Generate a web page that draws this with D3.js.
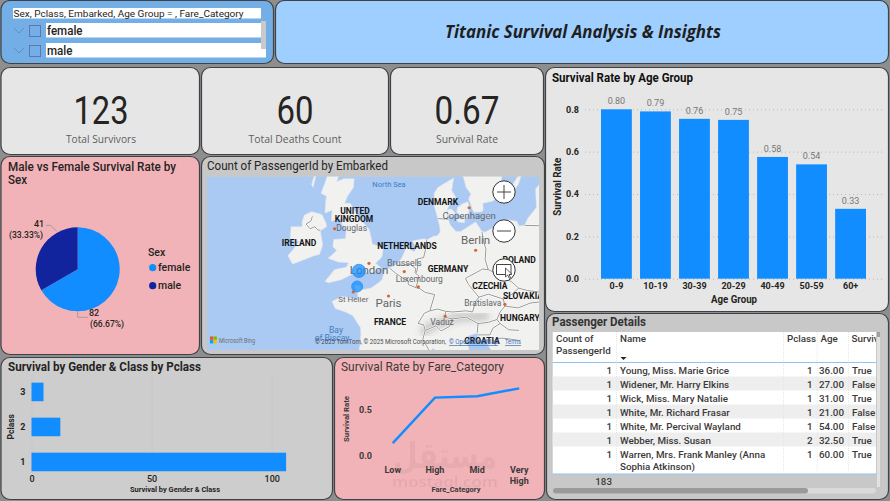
<!DOCTYPE html>
<html>
<head>
<meta charset="utf-8">
<title>Titanic Survival Analysis &amp; Insights</title>
<script src="https://cdn.jsdelivr.net/npm/d3@7"></script>
<style>
  html, body { margin: 0; padding: 0; background: #8e8e8e; }
  svg { display: block; }
</style>
</head>
<body>
<svg id="dash" width="890" height="501"></svg>
<script>
// ---- Data ----
const kpiValues = ["123", "60", "0.67"];
const kpiLabels = ["Total Survivors", "Total Deaths Count", "Survival Rate"];

const sexCategories = ["female", "male"];
const sexCounts = [82, 41];

const ageGroups = ["0-9", "10-19", "30-39", "20-29", "40-49", "50-59", "60+"];
const ageRates = [0.80, 0.79, 0.755, 0.75, 0.575, 0.54, 0.33];
const ageRateLabels = ["0.80", "0.79", "0.76", "0.75", "0.58", "0.54", "0.33"];

const pclassCategories = ["3", "2", "1"];
const pclassSurvivors = [5, 12, 106];

const fareCategories = ["Low", "High", "Mid", "Very High"];
const fareRates = [0.14, 0.635, 0.65, 0.735];

const ports = ["Southampton", "Cherbourg"];
const portLon = [-1.4, -1.62];
const portLat = [50.9, 49.64];
const portCounts = [116, 65];

const tableCounts = [1, 1, 1, 1, 1, 1, 1];
const tableNames = ["Young, Miss. Marie Grice", "Widener, Mr. Harry Elkins", "Wick, Miss. Mary Natalie",
  "White, Mr. Richard Frasar", "White, Mr. Percival Wayland", "Webber, Miss. Susan",
  "Warren, Mrs. Frank Manley (Anna|Sophia Atkinson)"];
const tablePclass = [1, 1, 1, 1, 1, 2, 1];
const tableAges = ["36.00", "27.00", "31.00", "21.00", "54.00", "32.50", "60.00"];
const tableSurvived = ["True", "False", "True", "False", "False", "True", "True"];
const tableTotal = 183;

// Base map geography, lon/lat
const ireland = [[-7.4,55.4],[-6.1,55.2],[-5.6,54.6],[-5.5,54.3],[-6.3,54],[-6.1,53.3],[-6,52.9],[-6.4,52.2],[-7.1,52.1],[-8.3,51.8],[-9.8,51.45],[-10.4,52.1],[-9.7,52.6],[-9,53.2],[-10.1,53.4],[-10,54.3],[-8.6,54.3],[-8.6,54.65],[-8.3,55.15]];
const britain = [[-5,58.6],[-3.4,58.65],[-3.1,58.4],[-4,57.85],[-4.2,57.5],[-3.3,57.7],[-2,57.7],[-2.1,57.1],[-2.9,56.45],[-3.2,56],[-2.5,56],[-1.45,55],[-0.1,54.1],[0.1,53.6],[0.3,53],[1.7,52.7],[1.5,52],[0.7,51.5],[1.4,51.15],[0.2,50.75],[-1.3,50.8],[-2.4,50.6],[-3.6,50.2],[-5.2,49.95],[-5.7,50.05],[-4.5,51],[-3,51.2],[-2.7,51.55],[-4,51.6],[-5.3,51.9],[-4.2,52.5],[-4.7,52.8],[-4.6,53.35],[-3.1,53.4],[-3,54.1],[-3.6,54.5],[-3.3,54.95],[-4.9,54.7],[-4.8,55.5],[-5.7,55.3],[-5.6,56.2],[-5.5,56.5],[-6.2,56.7],[-5.7,57.4],[-5.2,58.2]];
const hebrides = [[-6.3,58.5],[-6.9,58.2],[-7.4,57.3],[-7.2,57.1],[-6.9,57.8]];
const continent = [[-1.6,43.4],[-1.25,44.6],[-1.15,45.6],[-1.2,46.15],[-2.2,47.2],[-3.1,47.5],[-4.4,47.8],[-4.8,48.4],[-3.5,48.8],[-2,48.65],[-1.5,48.65],[-1.6,49.2],[-1.95,49.72],[-1.25,49.7],[-1.1,49.35],[0.1,49.5],[1.1,49.95],[1.55,50.2],[1.85,50.95],[2.9,51.25],[3.5,51.45],[4.1,52],[4.75,52.95],[5,52.6],[5.6,52.4],[5.9,52.7],[5.4,53.25],[6.9,53.4],[7.2,53.3],[8.1,53.6],[8.5,53.6],[8.9,53.9],[8.85,54.3],[8.6,54.9],[8.3,55.5],[8.1,56],[8.15,56.7],[8.6,57.1],[10.6,57.75],[10.5,57.4],[10.35,56.9],[10.9,56.4],[10.25,56.1],[9.75,55.5],[9.9,54.85],[10.2,54.4],[10.9,53.95],[11.5,53.95],[12.2,54.2],[13.4,54.65],[14.2,53.95],[14.6,53.9],[15.6,54.2],[17.5,54.8],[18.6,54.7],[18.9,54.35],[19.6,54.4],[20,54.9],[21.1,55.7],[21,57],[24,59],[30,60],[30,38],[19,38],[19,40],[18.5,42.4],[16,43.5],[15.2,44.3],[14.5,45.25],[13.9,44.8],[13.6,45.5],[13.7,45.7],[12.4,45.4],[12.3,44.9],[12.6,44],[14,42],[18,40],[16,38],[10,43],[8,44.3],[6,43],[3,43],[3,42],[-2,36],[-10,36],[-10,43.5]];
const scandinavia = [[7,58],[8.5,58.2],[9.5,58.9],[10.5,59.3],[11.2,59],[11.5,58.3],[11.9,57.7],[12.2,57.1],[12.8,56.65],[12.5,56.3],[12.7,56.05],[13,55.55],[13.2,55.35],[14.2,55.4],[14.35,55.55],[14.3,56],[15.6,56.15],[16.4,56.7],[16.7,57.8],[17,58.7],[18.5,59.5],[19,60],[25,62],[25,64],[5,64],[5,59],[5.6,58.9],[6,58.2]];
const zealand = [[11.1,55.7],[11,55.35],[11.8,55],[12.2,54.9],[12.5,55.3],[12.6,55.7],[12.4,56.1],[11.7,55.95]];
const funen = [[9.8,55.5],[10.3,55.6],[10.8,55.3],[10.6,55.05],[10,55.1]];
const lolland = [[11,54.85],[12,54.9],[12,54.6],[11.2,54.65]];
const bornholm = [[14.7,55.1],[15.15,55.15],[15.1,55],[14.75,55]];
const gotland = [[18.1,57.3],[18.8,57.9],[19.2,57.95],[18.8,57.3],[18.3,56.95]];
const landShapes = [ireland, britain, hebrides, continent, scandinavia, zealand, funen, lolland, bornholm, gotland];

const borderLines = [
  [[-7.3,55.05],[-7.5,54.7],[-8.1,54.5],[-7.6,54.15],[-7,54.3],[-6.6,54.05],[-6.3,54.05]],
  [[2.55,51.08],[3.2,50.75],[4.2,50.3],[4.85,50.1],[4.85,49.8],[5.8,49.55],[6.35,49.45],[7,49.15],[8.2,48.97],[7.6,47.6],[6.9,47.4],[6.1,46.5],[6.8,46.4],[7,45.9],[6.7,45.1],[7.1,44.6],[7.5,44.1]],
  [[3.4,51.35],[4.3,51.35],[5,51.45],[5.8,51.1],[5.7,50.75],[6.2,50.5],[6.1,50.1],[5.8,49.55]],
  [[5.9,50.75],[6.05,51.2],[6,51.85],[6.8,51.95],[7.05,52.6],[7.2,53.3]],
  [[8.6,54.9],[9.9,54.85]],
  [[14.2,53.9],[14.4,53.2],[14.7,52.6],[14.6,51.8],[15,51],[14.3,51.05],[12.1,50.3],[12.5,49.8],[13.8,48.75],[13.4,48.4],[13,47.5],[12.2,47.6],[10.5,47.5],[9.6,47.55],[8.6,47.75],[7.6,47.6]],
  [[9.6,47.5],[9.5,47.05],[10.4,46.9],[10.1,46.25],[9,45.85],[8.4,46.3],[7,45.9]],
  [[10.4,46.9],[12.2,47.05],[13.7,46.5],[15,46.6],[16.1,46.85],[16.5,47.5],[17.1,48],[16.9,48.6],[15,49],[13.8,48.75]],
  [[15,51],[16.3,50.6],[18,50],[18.85,49.5],[20,49.3],[22.5,49.1]],
  [[16.9,48.6],[18,49],[18.85,49.5]],
  [[17.1,48],[18.8,47.85],[20.3,48.25],[22.1,48.4]],
  [[13.6,45.5],[15.2,45.5],[15.6,46.1],[16.5,46.5],[17.6,45.95],[18.9,45.9]],
  [[16.1,46.85],[16.5,46.5]],
  [[13.7,46.5],[13.6,45.7]],
  [[15.7,44.8],[16,45.2],[17,45.2],[19,45]],
  [[19.6,54.4],[22.8,54.35]]
];
const alps = [[6.6,45.6],[7.6,46.2],[9.2,46.6],[11,47],[13.4,47.1],[15,47.2]];

const cityNames = ["London", "Douglas", "Copenhagen", "Berlin", "Brussels", "Luxembourg", "St Helier", "Paris", "Bratislava", "Vaduz"];
const cityLon = [-0.12, -4.48, 12.57, 13.4, 4.35, 6.13, -2.11, 2.35, 17.1, 9.52];
const cityLat = [51.5, 54.15, 55.68, 52.52, 50.85, 49.61, 49.19, 48.85, 48.15, 47.14];
const cityLabelOffsetX = [0, 17, 0, 0, 0, 1, 0, 0, -22, -3];
const cityLabelOffsetY = [11, 2, 11, -6, -6, -5, 10, 11, 2, 9];
const cityLabelSizes = [11.5, 8.5, 9.5, 11.5, 9, 8.5, 8, 11.5, 8.5, 8.5];

const countryNames = ["UNITED", "KINGDOM", "IRELAND", "DENMARK", "NETHERLANDS", "GERMANY", "POLAND", "CZECHIA", "SLOVAKIA", "HUNGARY", "FRANCE", "CROATIA", "LITHUANIA"];
const countryLon = [-1.9, -2.02, -8.99, 8.62, 4.69, 9.89, 18.9, 15.2, 19.4, 19.0, 2.54, 14.2, 21.7];
const countryLat = [55.26, 54.68, 52.82, 55.84, 52.58, 50.78, 51.55, 49.46, 48.64, 46.76, 46.4, 44.72, 55.26];

// ---- Helpers ----
const svg = d3.select("#dash");
const DIN = "Roboto, 'Noto Sans', sans-serif";
const SEGOE = "'Open Sans', 'Noto Sans', sans-serif";

function label(parent, x, y, str, o = {}) {
  const t = parent.append("text")
    .attr("x", x).attr("y", y)
    .attr("font-family", o.family || DIN)
    .attr("font-size", o.size || 10)
    .attr("font-weight", o.weight || 400)
    .attr("fill", o.fill || "#252423")
    .attr("text-anchor", o.anchor || "start")
    .text(str);
  if (o.style) t.attr("font-style", o.style);
  if (o.width) t.attr("textLength", o.width).attr("lengthAdjust", "spacingAndGlyphs");
  if (o.rotate) t.attr("transform", `rotate(${o.rotate} ${x} ${y})`);
  return t;
}

function panel(x, y, w, h, fill) {
  svg.append("rect").attr("x", x + 0.5).attr("y", y + 0.5).attr("width", w).attr("height", h)
    .attr("rx", 9).attr("fill", fill).attr("stroke", "#3f4347").attr("stroke-width", 1.2);
}

function styleAxis(g, size, weight) {
  g.select(".domain").remove();
  g.selectAll(".tick text").attr("font-family", DIN).attr("font-size", size)
    .attr("font-weight", weight).attr("fill", "#252423");
  g.selectAll(".tick line").attr("stroke", "#b9b9b9").attr("stroke-width", 1).attr("stroke-dasharray", "1 3");
}

// ---- Panels ----
svg.append("rect").attr("width", 890).attr("height", 501).attr("fill", "#8e8e8e");
panel(0.5, 0, 272.5, 63, "#73aee6");
panel(275, 0, 613, 63, "#9fcfff");
panel(0.5, 67, 198.5, 87, "#e6e6e6");
panel(201, 67, 187, 87, "#e6e6e6");
panel(390, 67, 153, 87, "#e6e6e6");
panel(0.5, 156, 198.5, 198, "#f2b3b8");
panel(201, 156, 343, 198, "#c8c8c8");
panel(545, 67, 343, 244, "#e6e6e6");
panel(546, 313, 342, 186, "#c8c8c8");
panel(0.5, 357, 331.5, 142, "#cdcdcd");
panel(334, 357, 210, 142, "#f2b3b8");

// ---- Slicer ----
const slicer = svg.append("g");
slicer.append("rect").attr("x", 13).attr("y", 8).attr("width", 248).attr("height", 10.5).attr("fill", "#fff");
label(slicer, 13.5, 17, "Sex, Pclass, Embarked, Age Group = , Fare_Category", { size: 9.5, width: 230, fill: "#252423" });
sexCategories.forEach((s, i) => {
  const top = 23 + i * 20;
  slicer.append("rect").attr("x", 46).attr("y", top).attr("width", 220).attr("height", 14.5).attr("fill", "#fff");
  slicer.append("path").attr("d", `M14 ${top + 5}l5 5l5 -5`).attr("fill", "none").attr("stroke", "#5d8ec4").attr("stroke-width", 1);
  slicer.append("rect").attr("x", 29.5).attr("y", top + 2.5).attr("width", 11).attr("height", 11)
    .attr("fill", "none").attr("stroke", "#5f77ad").attr("stroke-width", 1);
  label(slicer, 47, top + 12, s, { size: 12, weight: 500, width: i ? 25.5 : 35.5 });
});
slicer.append("rect").attr("x", 261).attr("y", 21).attr("width", 5).attr("height", 28).attr("fill", "#c9c9c9");

// ---- Header ----
label(svg, 583, 38, "Titanic Survival Analysis & Insights",
  { family: SEGOE, size: 17, weight: 700, style: "italic", anchor: "middle", width: 276, fill: "#1f1f1f" });

// ---- KPI cards ----
const kpiCenters = [101, 295, 467];
const kpiNumberWidths = [55, 37, 65];
const kpiLabelWidths = [70, 93, 62];
kpiValues.forEach((v, i) => {
  label(svg, kpiCenters[i], 124, v, { size: 39, anchor: "middle", width: kpiNumberWidths[i], fill: "#252423" });
  label(svg, kpiCenters[i], 143, kpiLabels[i], { family: SEGOE, size: 11, anchor: "middle", width: kpiLabelWidths[i], fill: "#605e5c" });
});

// ---- Pie: survivors by sex ----
const sexColor = d3.scaleOrdinal().domain(sexCategories).range(["#118dff", "#12239e"]);
const pieG = svg.append("g").attr("transform", "translate(77.7,269.3)");
const pieArcs = d3.pie().sort(null)(sexCounts);
const arc = d3.arc().innerRadius(0).outerRadius(42);
pieG.selectAll("path").data(pieArcs).join("path")
  .attr("d", arc).attr("fill", (d, i) => sexColor(sexCategories[i]));

label(svg, 8, 171, "Male vs Female Survival Rate by", { size: 12, weight: 500, width: 168 });
label(svg, 8, 184, "Sex", { size: 12, weight: 500, width: 19 });

const total = d3.sum(sexCounts);
const pct = d => `(${(d / total * 100).toFixed(2)}%)`;
pieG.append("path").attr("d", "M0 42V48H10").attr("fill", "none").attr("stroke", "#a99a9a");
pieG.append("path").attr("d", "M-21 -38L-27 -44H-32").attr("fill", "none").attr("stroke", "#a99a9a");
label(svg, 89, 316, sexCounts[0], { size: 9, weight: 500 });
label(svg, 90, 327, pct(sexCounts[0]), { size: 9, weight: 500, width: 34 });
label(svg, 34, 227, sexCounts[1], { size: 9, weight: 500 });
label(svg, 9, 238, pct(sexCounts[1]), { size: 9, weight: 500, width: 34 });

label(svg, 148, 256, "Sex", { size: 10.5, weight: 500 });
sexCategories.forEach((s, i) => {
  const y = 267.7 + i * 18;
  svg.append("circle").attr("cx", 152.7).attr("cy", y).attr("r", 3.6).attr("fill", sexColor(s));
  label(svg, 158, y + 3.5, s, { size: 10.5, weight: 500 });
});

// ---- Map of embarkation ports ----
label(svg, 207, 170, "Count of PassengerId by Embarked", { size: 12, weight: 400, width: 181 });
const defs = svg.append("defs");
defs.append("clipPath").attr("id", "mapClip").append("rect").attr("x", 207).attr("y", 176.5).attr("width", 332).attr("height", 173.5);
defs.append("filter").attr("id", "soften").append("feGaussianBlur").attr("stdDeviation", 3);
const projection = d3.geoMercator().scale(452).center([2.35, 48.85]).translate([388.5, 296]);
const toPx = d => projection(d);
const mapG = svg.append("g").attr("clip-path", "url(#mapClip)");
mapG.append("rect").attr("x", 207).attr("y", 176.5).attr("width", 332).attr("height", 173.5).attr("fill", "#aac9f3");
const polyLine = d3.line().x(d => toPx(d)[0]).y(d => toPx(d)[1]);
mapG.selectAll(".land").data(landShapes).join("path").attr("class", "land")
  .attr("d", d => polyLine(d) + "Z").attr("fill", "#f1f1ef").attr("stroke", "#e4e8ee").attr("stroke-width", 0.6);
mapG.append("path").attr("d", polyLine(alps)).attr("fill", "none").attr("stroke", "#bdbdbd")
  .attr("stroke-width", 9).attr("opacity", 0.75).attr("filter", "url(#soften)");
mapG.selectAll(".borderCase").data(borderLines).join("path").attr("class", "borderCase")
  .attr("d", polyLine).attr("fill", "none").attr("stroke", "#fff").attr("stroke-width", 2);
mapG.selectAll(".border").data(borderLines).join("path").attr("class", "border")
  .attr("d", polyLine).attr("fill", "none").attr("stroke", "#8b8b8b").attr("stroke-width", 0.9);

countryNames.forEach((n, i) => {
  const [x, y] = toPx([countryLon[i], countryLat[i]]);
  label(mapG, x, y, n, { size: 8.5, weight: 700, anchor: i === 12 ? "start" : "middle", fill: "#151515" });
});
cityNames.forEach((n, i) => {
  const [x, y] = toPx([cityLon[i], cityLat[i]]);
  mapG.append("circle").attr("cx", x).attr("cy", y).attr("r", 1.6).attr("fill", "#d8662c");
  label(mapG, x + cityLabelOffsetX[i], y + cityLabelOffsetY[i], n,
    { size: cityLabelSizes[i], anchor: "middle", fill: "#63666a" });
});
label(mapG, 389, 187, "North Sea", { size: 7.5, anchor: "middle", fill: "#3a7fc4" });
label(mapG, 336, 333, "Bay", { size: 8.5, anchor: "middle", fill: "#3a7fc4" });
label(mapG, 332, 341, "of Biscay", { size: 8.5, anchor: "middle", fill: "#3a7fc4" });

const portRadius = d3.scaleLinear().domain([2, 116]).range([4.2, 6.6]);
ports.forEach((p, i) => {
  const [x, y] = toPx([portLon[i], portLat[i]]);
  mapG.append("circle").attr("cx", x).attr("cy", y).attr("r", portRadius(portCounts[i]))
    .attr("fill", "#118dff").attr("fill-opacity", 0.72).attr("stroke", "#2f8fef").attr("stroke-width", 0.8);
});

// Bing logo and attribution
const logoColors = ["#f25022", "#7fba00", "#00a4ef", "#ffb900"];
logoColors.forEach((c, i) => {
  mapG.append("rect").attr("x", 210 + (i % 2) * 3.6).attr("y", 336.5 + Math.floor(i / 2) * 3.6)
    .attr("width", 3.3).attr("height", 3.3).attr("fill", c);
});
label(mapG, 219, 343, "Microsoft Bing", { size: 6.5, fill: "#6d6d6d", width: 36 });
label(mapG, 315, 344, "© 2025 TomTom, © 2025 Microsoft Corporation,", { size: 6.4, fill: "#4c4c4c", width: 131 });
label(mapG, 449, 344, "© OpenStreetMap", { size: 6.4, fill: "#3d6fb5", width: 49 });
label(mapG, 505, 344, "Terms", { size: 6.4, fill: "#3d6fb5", width: 16 });
mapG.append("path").attr("d", "M449 345.5H498M505 345.5H521").attr("stroke", "#3d6fb5").attr("stroke-width", 0.7);

// Zoom controls
[192, 231, 270].forEach((cy, i) => {
  svg.append("circle").attr("cx", 504).attr("cy", cy).attr("r", 11.2).attr("fill", "#fff").attr("stroke", "#333").attr("stroke-width", 1);
  const glyph = i === 0 ? `M497 ${cy}H511M504 ${cy - 7}V${cy + 7}`
    : i === 1 ? `M497 ${cy}H511`
    : `M496.5 ${cy - 5.5}H511V${cy + 4.5}H496.5Z`;
  svg.append("path").attr("d", glyph).attr("fill", "none").attr("stroke", "#444").attr("stroke-width", 1);
});
svg.append("path").attr("d", "M505.5 268l0 9l2.2 -2l1.6 3.4l1.3 -.6l-1.6 -3.3l3 -.2Z").attr("fill", "#fff").attr("stroke", "#333").attr("stroke-width", 0.8);

// ---- Survival rate by age group ----
label(svg, 552, 81.5, "Survival Rate by Age Group", { size: 12, weight: 700, width: 141, fill: "#111" });
const ageX = d3.scaleBand().domain(ageGroups).range([585, 882]).paddingInner(0.21).paddingOuter(0.41);
const ageY = d3.scaleLinear().domain([0, 0.8]).range([278.7, 109.3]);
const ageYAxis = svg.append("g").attr("transform", "translate(585,0)")
  .call(d3.axisLeft(ageY).tickValues([0, 0.2, 0.4, 0.6, 0.8]).tickFormat(d3.format(".1f")).tickSize(-297).tickPadding(6));
styleAxis(ageYAxis, 9, 700);
svg.selectAll(".ageBar").data(ageRates).join("rect").attr("class", "ageBar")
  .attr("x", (d, i) => ageX(ageGroups[i])).attr("width", ageX.bandwidth())
  .attr("y", d => ageY(d)).attr("height", d => ageY(0) - ageY(d)).attr("fill", "#118dff");
svg.selectAll(".ageVal").data(ageRates).join("text").attr("class", "ageVal")
  .attr("x", (d, i) => ageX(ageGroups[i]) + ageX.bandwidth() / 2).attr("y", d => ageY(d) - 5)
  .attr("text-anchor", "middle").attr("font-family", DIN).attr("font-size", 9).attr("fill", "#777")
  .text((d, i) => ageRateLabels[i]);
const ageXAxis = svg.append("g").attr("transform", "translate(0,278.7)")
  .call(d3.axisBottom(ageX).tickSize(0).tickPadding(4));
styleAxis(ageXAxis, 9, 700);
label(svg, 734, 303, "Age Group", { size: 10, weight: 700, anchor: "middle", width: 46 });
label(svg, 561, 186.7, "Survival Rate", { size: 10, weight: 700, anchor: "middle", rotate: -90, width: 58 });

// ---- Passenger table ----
label(svg, 552, 325.5, "Passenger Details", { size: 12, weight: 700, width: 94, fill: "#333" });
defs.append("clipPath").attr("id", "tableClip").append("rect").attr("x", 552.5).attr("y", 332).attr("width", 323.5).attr("height", 142);
const tbl = svg.append("g").attr("clip-path", "url(#tableClip)");
tbl.append("rect").attr("x", 552.5).attr("y", 332).attr("width", 323.5).attr("height", 142).attr("fill", "#fff");
const rowTop = i => 362.5 + i * 14;
tableNames.forEach((n, i) => {
  const h = i === 6 ? 26 : 14;
  if (i % 2) tbl.append("rect").attr("x", 552.5).attr("y", rowTop(i)).attr("width", 323.5).attr("height", h).attr("fill", "#eeeeee");
  const base = rowTop(i) + 11.5;
  const cellStyle = { size: 9.8, weight: 500, fill: "#3b3a39" };
  label(tbl, 612, base, tableCounts[i], { ...cellStyle, anchor: "end" });
  n.split("|").forEach((part, k) => label(tbl, 620, base + k * 12, part, cellStyle));
  label(tbl, 812.7, base, tablePclass[i], { ...cellStyle, anchor: "end" });
  label(tbl, 844, base, tableAges[i], { ...cellStyle, anchor: "end" });
  label(tbl, 852, base, tableSurvived[i], cellStyle);
});
[616, 783, 816.7, 848].forEach(x => {
  tbl.append("path").attr("d", `M${x + 0.5} 332V472`).attr("stroke", "#e6e6e6").attr("stroke-width", 1).attr("stroke-dasharray", "1 1");
});
const headStyle = { size: 9.8, weight: 500, fill: "#3b3a39" };
label(tbl, 556, 341.5, "Count of", headStyle);
label(tbl, 556, 353.5, "PassengerId", headStyle);
label(tbl, 620, 341.5, "Name", headStyle);
label(tbl, 787, 341.5, "Pclass", headStyle);
label(tbl, 820.5, 341.5, "Age", headStyle);
label(tbl, 851.5, 341.5, "Survived", headStyle);
tbl.append("path").attr("d", "M620.5 357h6l-3 3Z").attr("fill", "#252423");
svg.append("path").attr("d", "M552.5 362.5H876M552.5 474H876").attr("stroke", "#8ec3f2").attr("stroke-width", 1.2);
label(svg, 612, 485, tableTotal, { size: 9.8, weight: 500, anchor: "end", fill: "#3b3a39" });
svg.append("rect").attr("x", 553).attr("y", 488).attr("width", 323).attr("height", 5.5).attr("rx", 2.7).attr("fill", "#dadada");
svg.append("rect").attr("x", 553).attr("y", 488).attr("width", 255).attr("height", 5.5).attr("rx", 2.7).attr("fill", "#9a9a9a");
svg.append("rect").attr("x", 877).attr("y", 332).attr("width", 3).attr("height", 155).attr("fill", "#e2e2e2");
svg.append("rect").attr("x", 877).attr("y", 332).attr("width", 3).attr("height", 5).attr("fill", "#a0a0a0");

// ---- Survivors by passenger class ----
label(svg, 8, 371, "Survival by Gender & Class by Pclass", { size: 12, weight: 700, width: 193, fill: "#252423" });
const classX = d3.scaleLinear().domain([0, 100]).range([31.5, 271.7]);
const classY = d3.scaleBand().domain(pclassCategories).range([373.2, 480.7]).paddingInner(0.47).paddingOuter(0.27);
const classXAxis = svg.append("g").attr("transform", "translate(0,480.7)")
  .call(d3.axisBottom(classX).tickValues([0, 50, 100]).tickSize(-107.5));
styleAxis(classXAxis, 9, 500);
classXAxis.selectAll(".tick text").attr("dy", "0.71em").attr("y", -5.5);
const classYAxis = svg.append("g").attr("transform", "translate(31.5,0)")
  .call(d3.axisLeft(classY).tickSize(0).tickPadding(6));
styleAxis(classYAxis, 9, 700);
svg.selectAll(".classBar").data(pclassSurvivors).join("rect").attr("class", "classBar")
  .attr("x", classX(0)).attr("y", (d, i) => classY(pclassCategories[i]))
  .attr("width", d => classX(d) - classX(0)).attr("height", classY.bandwidth()).attr("fill", "#118dff");
label(svg, 175, 492, "Survival by Gender & Class", { size: 8, weight: 700, anchor: "middle", width: 90 });
label(svg, 14.5, 426.7, "Pclass", { size: 8.5, weight: 700, anchor: "middle", rotate: -90 });

// ---- Survival rate by fare category ----
label(svg, 341, 371, "Survival Rate by Fare_Category", { size: 12, width: 163, fill: "#3a3a3a" });
// Faint site mark across the lower part of the panel
label(svg, 445, 468, "مستقل", { family: "'DejaVu Sans', sans-serif", size: 36, weight: 700, anchor: "middle", fill: "#b98a8e", width: 104 }).attr("opacity", 0.2);
label(svg, 445, 487, "mostaql.com", { family: SEGOE, size: 14, weight: 600, anchor: "middle", fill: "#b98a8e", width: 106 }).attr("opacity", 0.25);

const fareX = d3.scalePoint().domain(fareCategories).range([371.7, 540.3]).padding(0.5);
const fareY = d3.scaleLinear().domain([0, 0.5]).range([456, 410]);
const fareYAxis = svg.append("g").attr("transform", "translate(371,0)")
  .call(d3.axisLeft(fareY).tickValues([0, 0.5]).tickFormat(d3.format(".1f")).tickSize(0).tickPadding(-1));
styleAxis(fareYAxis, 9, 700);
fareYAxis.selectAll(".tick text").attr("fill", "#3a3a3a");
svg.append("path").datum(fareRates)
  .attr("d", d3.line().x((d, i) => fareX(fareCategories[i])).y(d => fareY(d)))
  .attr("fill", "none").attr("stroke", "#118dff").attr("stroke-width", 2.4);
fareCategories.forEach(c => {
  c.split(" ").forEach((part, k) => label(svg, fareX(c), 473 + k * 11, part, { size: 9, weight: 700, anchor: "middle", fill: "#3a3a3a" }));
});
label(svg, 456, 492, "Fare_Category", { size: 8, weight: 700, anchor: "middle", width: 49, fill: "#3a3a3a" });
label(svg, 348.5, 419, "Survival Rate", { size: 8, weight: 700, anchor: "middle", rotate: -90, width: 46, fill: "#3a3a3a" });
</script>
</body>
</html>
